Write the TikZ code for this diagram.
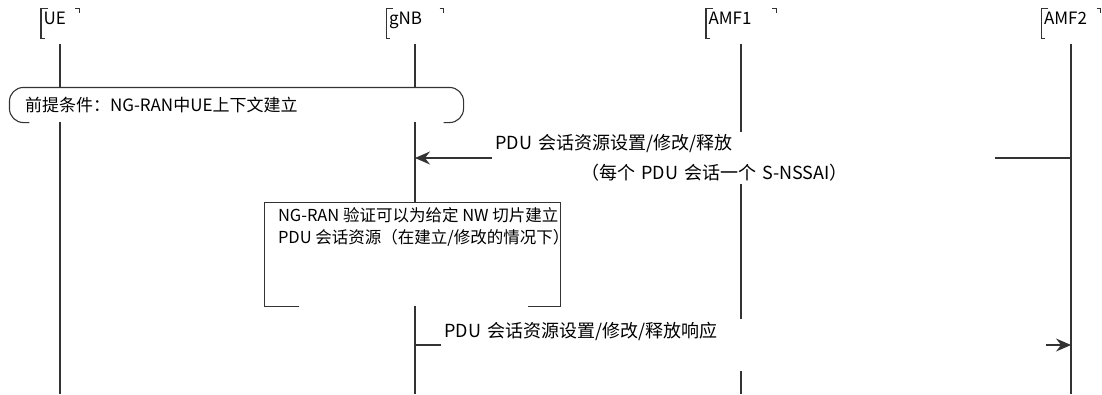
\documentclass[tikz,border=0pt]{standalone}
\usepackage{fontspec}
\setmainfont{Noto Sans CJK SC}
\usetikzlibrary{arrows.meta,positioning,calc}

\begin{document}
\begin{tikzpicture}[
  x=1pt, y=1pt,
  line width=1.1pt,
  every node/.style={font=\fontsize{17}{22}\selectfont},
  head/.style={text width=#1, inner sep=2pt, text height=13pt, text depth=12pt, align=left},
  life/.style={draw=black!80},
  pre/.style={fill=white, text width=423pt, inner xsep=15pt, inner ysep=0pt, minimum height=34pt, align=left},
  act/.style={fill=white, minimum width=295pt, minimum height=103pt, inner sep=0pt},
  msg/.style={fill=white, inner xsep=4pt, inner ysep=3pt, align=left, text width=#1, font=\fontsize{18}{30}\selectfont},
  arr/.style={-{Stealth[length=15pt,width=13pt,inset=5pt]}, draw=black!80}
]
\useasboundingbox (0,0) rectangle (1102,-394);

% participants
\node[head=33pt] (ue) at (60,-23.5) {UE};
\node[head=52pt] (gnb) at (415,-23.5) {gNB};
\node[head=65pt] (amf1) at (741,-23.5) {AMF1};
\node[head=54pt] (amf2) at (1071,-23.5) {AMF2};

\foreach \p in {ue,gnb,amf1,amf2}{
  \draw[black!80] ([xshift=7pt]\p.north west) -- (\p.north west) -- (\p.south west) -- ++(4,0);
  \draw[black!80] ([xshift=-4pt]\p.north east) -- (\p.north east) -- ++(0,-5);
  \draw[life] ([yshift=-5pt]\p.south) -- (\p.south |- 0,-394);
}

% precondition
\node[pre] (cond) at (236.5,-105) {前提条件：NG-RAN中UE上下文建立};
\draw[black!80, rounded corners=14pt] ([xshift=20pt]cond.south west) -- (cond.south west)
  -- (cond.north west) -- (cond.north east) -- (cond.south east) -- ([xshift=-20pt]cond.south east);

% request
\coordinate (m1) at (0,-158);
\draw[arr] (amf2 |- m1) -- node[msg=495pt]{PDU 会话资源设置/修改/释放\\\hspace*{86pt}（每个 PDU 会话一个 S-NSSAI）} (gnb |- m1);

% check in gNB
\node[act] (check) at (412.5,-254.5) {};
\draw[black!80] ([xshift=35pt]check.south west) -- (check.south west) -- (check.north west)
  -- (check.north east) -- (check.south east) -- ([xshift=-33pt]check.south east);
\node[anchor=north west, inner sep=0pt, align=left, font=\fontsize{16.5}{22}\selectfont] (checktxt)
  at ([xshift=13pt,yshift=-5pt]check.north west)
  {NG-RAN 验证可以为给定 NW 切片建立\\PDU 会话资源（在建立/修改的情况下）};

% response
\coordinate (m2) at (0,-345);
\draw[arr] (gnb |- m2) -- node[msg=597pt]{PDU 会话资源设置/修改/释放响应\\\mbox{}} (amf2 |- m2);
\end{tikzpicture}
\end{document}
